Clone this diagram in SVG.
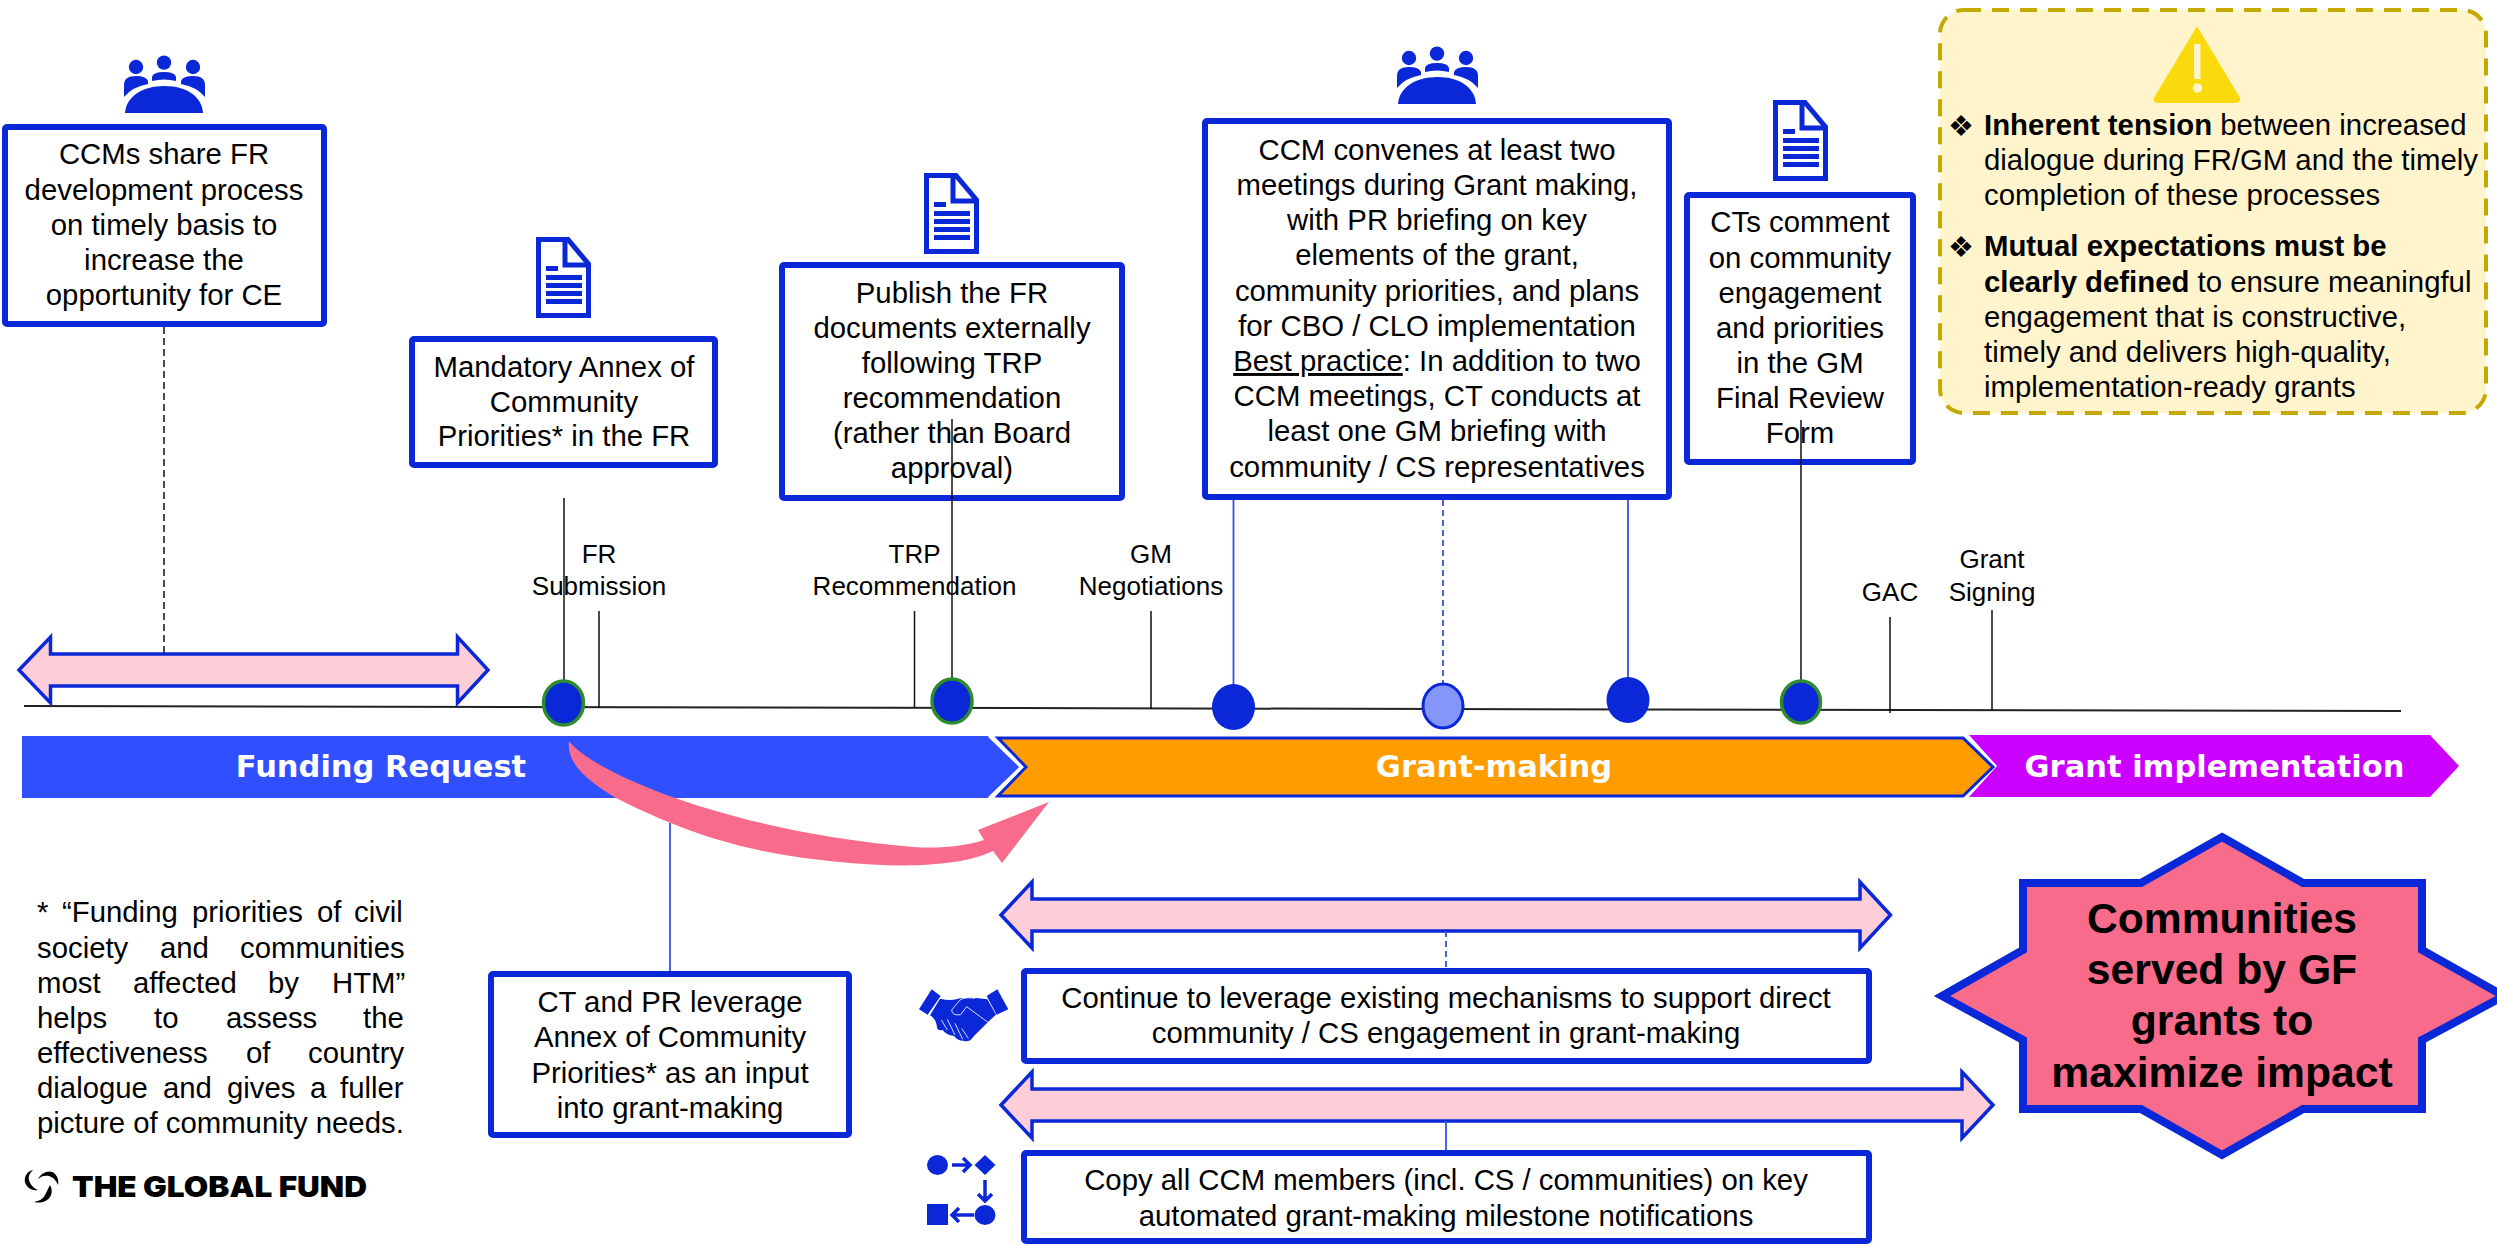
<svg xmlns="http://www.w3.org/2000/svg" xmlns:xlink="http://www.w3.org/1999/xlink" width="2497" height="1246" viewBox="0 0 2497 1246">
<style>
text{font-family:"Liberation Sans",Arial,sans-serif;fill:#000}
.t{font-size:29.33px}
.m{text-anchor:middle}
.l{font-size:26px;text-anchor:middle}
.b{font-weight:700}
.box{fill:#fff;stroke:#0a28d8;stroke-width:6}
.dbl{fill:#fdcdd8;stroke:#0a28d8;stroke-width:3.5}
.bar{font-family:"DejaVu Sans",Verdana,sans-serif;font-weight:700;font-size:30.5px;fill:#fff;text-anchor:middle}
.bk{stroke:#111;stroke-width:1.5;fill:none}
.bl{stroke:#3550e0;stroke-width:1.8;fill:none}
.dot{fill:#0a28d8}
.green{stroke:#2e8b2e;stroke-width:3.5}
.icon{fill:#0a28d8}
.bull{font-family:"DejaVu Sans",sans-serif;font-size:29px}
</style>
<defs>
<symbol id="people" viewBox="0 0 81 57" overflow="visible">
<circle cx="12" cy="11" r="7.2" class="icon"/><circle cx="40" cy="6.6" r="7.2" class="icon"/><circle cx="69" cy="11" r="7.2" class="icon"/>
<path class="icon" d="M0 41V29Q0 20 12 20Q22 20 24 25V28Q8 31 0 41Z"/>
<path class="icon" d="M81 41V29Q81 20 69 20Q59 20 57 25V28Q73 31 81 41Z"/>
<path class="icon" d="M28 25V21Q29 16 40 16Q51 16 52 21V25Q40 22 28 25Z"/>
<path class="icon" d="M1 57C2 41 18 30 40.500 30C63 30 78 41 79 57Z"/>
</symbol>
<symbol id="doc" viewBox="0 0 55 81" overflow="visible">
<path d="M2.500 2.500H32L52.500 27V78.500H2.500Z" fill="#fff" stroke="#0a28d8" stroke-width="5"/>
<path d="M29 3V28H52" fill="none" stroke="#0a28d8" stroke-width="5"/>
<path class="icon" d="M10 29h12v5H10zM10 38h36v5H10zM10 46h36v5H10zM10 54h36v5H10zM10 62h36v5H10z"/>
</symbol>
</defs>

<g id="timeline"><path d="M24 706L2401 711" stroke="#222" stroke-width="2" fill="none"/></g>

<g id="arrow-fr"><path class="dbl" d="M19 670L50.500 637V654H457.500V637L488 670L457.500 703V686H50.500V703Z"/></g>
<g id="arrow-gm1"><path class="dbl" d="M1001 915L1032 882V899H1860V882L1890.500 915L1860 948V931H1032V948Z"/></g>
<g id="arrow-gm2"><path class="dbl" d="M1001 1105L1032 1072V1089H1962V1072L1993 1105L1962 1138V1121H1032V1138Z"/></g>

<g id="phase-grant-making">
<path d="M998 738H1963L1993 767L1963 796H998L1026 767Z" fill="#ff9c00" stroke="#0a28d8" stroke-width="3"/>
<text class="bar" x="1494" y="777">Grant-making</text>
</g>
<g id="phase-funding-request">
<path d="M22 736H988L1020 767L988 798H22Z" fill="#304ffe"/>
<path d="M989 736L1021 767L989 798" fill="none" stroke="#fff" stroke-width="2.500"/>
<text class="bar" x="381" y="777">Funding Request</text>
</g>
<g id="phase-implementation">
<path d="M1969 735H2430L2459 766L2430 797H1969L1997 766Z" fill="#cc00ff"/>
<text class="bar" x="2214.500" y="777">Grant implementation</text>
</g>

<g id="node-ccm-share">
<use href="#people" x="124" y="56" width="81" height="57"/>
<rect class="box" x="5" y="127" width="319" height="197" rx="2"/>
<text class="t m" x="164" y="164">CCMs share FR</text>
<text class="t m" x="164" y="200">development process</text>
<text class="t m" x="164" y="235">on timely basis to</text>
<text class="t m" x="164" y="270">increase the</text>
<text class="t m" x="164" y="305">opportunity for CE</text>
</g>
<g id="node-annex">
<use href="#doc" x="536" y="237" width="55" height="81"/>
<rect class="box" x="412" y="339" width="303" height="126" rx="2"/>
<text class="t m" x="564" y="377">Mandatory Annex of</text>
<text class="t m" x="564" y="412">Community</text>
<text class="t m" x="564" y="446">Priorities* in the FR</text>
</g>
<g id="node-publish">
<use href="#doc" x="924" y="173" width="55" height="81"/>
<rect class="box" x="782" y="265" width="340" height="233" rx="2"/>
<text class="t m" x="952" y="303">Publish the FR</text>
<text class="t m" x="952" y="338">documents externally</text>
<text class="t m" x="952" y="373">following TRP</text>
<text class="t m" x="952" y="408">recommendation</text>
<text class="t m" x="952" y="443">(rather than Board</text>
<text class="t m" x="952" y="478">approval)</text>
</g>
<g id="node-ccm-convenes">
<use href="#people" x="1397" y="47" width="81" height="57"/>
<rect class="box" x="1205" y="121" width="464" height="376" rx="2"/>
<text class="t m" x="1437" y="159.500">CCM convenes at least two</text>
<text class="t m" x="1437" y="195">meetings during Grant making,</text>
<text class="t m" x="1437" y="230">with PR briefing on key</text>
<text class="t m" x="1437" y="265">elements of the grant,</text>
<text class="t m" x="1437" y="300.500">community priorities, and plans</text>
<text class="t m" x="1437" y="336">for CBO / CLO implementation</text>
<text class="t m" x="1437" y="371"><tspan text-decoration="underline">Best practice</tspan>: In addition to two</text>
<text class="t m" x="1437" y="406">CCM meetings, CT conducts at</text>
<text class="t m" x="1437" y="441">least one GM briefing with</text>
<text class="t m" x="1437" y="477">community / CS representatives</text>
</g>
<g id="node-cts-comment">
<use href="#doc" x="1773" y="100" width="55" height="81"/>
<rect class="box" x="1687" y="195" width="226" height="267" rx="2"/>
<text class="t m" x="1800" y="232">CTs comment</text>
<text class="t m" x="1800" y="267.500">on community</text>
<text class="t m" x="1800" y="303">engagement</text>
<text class="t m" x="1800" y="338">and priorities</text>
<text class="t m" x="1800" y="373">in the GM</text>
<text class="t m" x="1800" y="408">Final Review</text>
<text class="t m" x="1800" y="443">Form</text>
</g>
<g id="node-ct-pr">
<rect class="box" x="491" y="974" width="358" height="161" rx="2"/>
<text class="t m" x="670" y="1012">CT and PR leverage</text>
<text class="t m" x="670" y="1047">Annex of Community</text>
<text class="t m" x="670" y="1083">Priorities* as an input</text>
<text class="t m" x="670" y="1118">into grant-making</text>
</g>
<g id="node-continue">
<g transform="translate(910 980) scale(.3333)">
<path class="icon" d="M27 88L65 28L92 48L53 104Z"/>
<path class="icon" d="M230 48L262 28L295 88L260 104Z"/>
<path class="icon" d="M90 56Q125 65 150 55Q190 50 232 58L258 104L238 122L192 168Q178 190 160 182Q142 182 132 168Q108 165 98 150Q80 155 80 135Q76 115 60 106Z"/>
<path d="M234 127L170 80L152 104Q126 108 125 90L150 60Q165 50 195 55M94 120L112 150M112 118L135 165M135 130L158 178M155 145L175 175" fill="none" stroke="#fff" stroke-width="2.500"/>
</g>
<rect class="box" x="1024" y="971" width="845" height="90" rx="2"/>
<text class="t m" x="1446" y="1008">Continue to leverage existing mechanisms to support direct</text>
<text class="t m" x="1446" y="1043">community / CS engagement in grant-making</text>
</g>
<g id="node-copy">
<ellipse class="icon" cx="937.500" cy="1165" rx="10.500" ry="10"/>
<path class="icon" d="M985 1155L995.500 1165L985 1175L974.500 1165Z"/>
<path d="M952 1165H970M963 1158L970 1165L963 1172M985 1180V1201M978 1194L985 1201L992 1194M974 1215H952M959 1208L952 1215L959 1222" fill="none" stroke="#0a28d8" stroke-width="3.500"/>
<ellipse class="icon" cx="985" cy="1215" rx="10.500" ry="10"/>
<rect class="icon" x="927" y="1204" width="21" height="21"/>
<rect class="box" x="1024" y="1153" width="845" height="88" rx="2"/>
<text class="t m" x="1446" y="1190">Copy all CCM members (incl. CS / communities) on key</text>
<text class="t m" x="1446" y="1226">automated grant-making milestone notifications</text>
</g>

<g id="node-tension">
<rect x="1940" y="10" width="546" height="403" rx="24" fill="#fff4cc" stroke="#c4a900" stroke-width="4" stroke-dasharray="17 11"/>
<path d="M2197 28L2239 98Q2240 102 2236 102H2158Q2154 102 2155 98Z" fill="#fada0d" stroke="#fada0d" stroke-width="2" stroke-linejoin="round"/>
<rect x="2194" y="44" width="6.500" height="35" fill="#fff4cc"/>
<circle cx="2197.500" cy="88" r="4.800" fill="#fff4cc"/>
<text class="bull m" x="1961" y="136">❖</text>
<text class="bull m" x="1961" y="257">❖</text>
<text class="t" x="1984" y="135"><tspan class="b">Inherent tension</tspan> between increased</text>
<text class="t" x="1984" y="170">dialogue during FR/GM and the timely</text>
<text class="t" x="1984" y="205">completion of these processes</text>
<text class="t b" x="1984" y="256">Mutual expectations must be</text>
<text class="t" x="1984" y="292"><tspan class="b">clearly defined</tspan> to ensure meaningful</text>
<text class="t" x="1984" y="327">engagement that is constructive,</text>
<text class="t" x="1984" y="362">timely and delivers high-quality,</text>
<text class="t" x="1984" y="397">implementation-ready grants</text>
</g>

<g id="node-communities">
<path d="M2222 837L2303 883H2422V950L2504 996L2422 1040V1109H2303L2222 1155L2141 1109H2023V1040L1942 996L2023 950V883H2141Z" fill="#f96b8b" stroke="#0a28d8" stroke-width="8"/>
<text class="b m" font-size="42.670" x="2222" y="933">Communities</text>
<text class="b m" font-size="42.670" x="2222" y="984">served by GF</text>
<text class="b m" font-size="42.670" x="2222" y="1035">grants to</text>
<text class="b m" font-size="42.670" x="2222" y="1087">maximize impact</text>
</g>

<g id="labels">
<text class="l" x="599" y="563">FR</text><text class="l" x="599" y="595">Submission</text>
<text class="l" x="914.500" y="563">TRP</text><text class="l" x="914.500" y="595">Recommendation</text>
<text class="l" x="1151" y="563">GM</text><text class="l" x="1151" y="595">Negotiations</text>
<text class="l" x="1890" y="601">GAC</text>
<text class="l" x="1992" y="568">Grant</text><text class="l" x="1992" y="601">Signing</text>
</g>

<g id="connectors">
<path class="bk" d="M164 327V654" stroke-dasharray="7 4"/>
<path class="bk" d="M564 498V682"/>
<path class="bk" d="M952 419V680"/>
<path class="bk" d="M599 611V708M914.500 611V708M1151 611V709M1890 617V713M1992 610V710"/>
<path class="bk" d="M1801 420V682"/>
<path class="bl" d="M1233.500 500V686M1628 500V679"/>
<path class="bl" d="M1443 500V685" stroke-dasharray="6 4"/>
<path class="bl" d="M670 823V971"/>
<path class="bl" d="M1446 931V968" stroke-dasharray="6 4"/>
<path class="bl" d="M1446 1121V1150"/>
</g>

<g id="node-pink-arrow"><path d="M569 741C590 770 720 830 913 847C940 849 965 846 984 840L978 830L1049 802L1002 863L993 851C960 867 900 868 840 862C740 853 680 830 616 798C590 782 566 765 569 741Z" fill="#f96b8b"/></g>

<g id="milestones">
<ellipse class="dot green" cx="563.500" cy="703" rx="20" ry="22"/>
<ellipse class="dot green" cx="952" cy="701" rx="20" ry="22"/>
<ellipse class="dot" cx="1233.500" cy="707" rx="21.500" ry="23"/>
<ellipse cx="1443" cy="706" rx="20" ry="22" fill="#8497f8" stroke="#0a28d8" stroke-width="3"/>
<ellipse class="dot" cx="1628" cy="700" rx="21.500" ry="23"/>
<ellipse class="dot green" cx="1801" cy="702" rx="19.500" ry="21"/>
</g>

<g id="footnote">
<text class="t" y="922"><tspan x="37">*</tspan><tspan x="62">“Funding</tspan><tspan x="192">priorities</tspan><tspan x="317">of</tspan><tspan x="354">civil</tspan></text>
<text class="t" y="958"><tspan x="37">society</tspan><tspan x="160">and</tspan><tspan x="240">communities</tspan></text>
<text class="t" y="993"><tspan x="37">most</tspan><tspan x="133">affected</tspan><tspan x="268">by</tspan><tspan x="332">HTM”</tspan></text>
<text class="t" y="1028"><tspan x="37">helps</tspan><tspan x="154">to</tspan><tspan x="226">assess</tspan><tspan x="363">the</tspan></text>
<text class="t" y="1063"><tspan x="37">effectiveness</tspan><tspan x="246">of</tspan><tspan x="308">country</tspan></text>
<text class="t" y="1098"><tspan x="37">dialogue</tspan><tspan x="163">and</tspan><tspan x="227">gives</tspan><tspan x="310">a</tspan><tspan x="340">fuller</tspan></text>
<text class="t" x="37" y="1133">picture of community needs.</text>
</g>

<g id="logo">
<path d="M33 1170C24 1172 23 1182 27 1186C30 1190 35 1191 38 1190C33 1188 30 1184 29 1180C28 1176 30 1173 33 1170ZM38 1179C42 1172 50 1169 55 1174C58 1177 59 1181 58 1185C56 1180 53 1177 49 1176C45 1175 41 1176 38 1179ZM50 1185C53 1190 52 1197 47 1200C43 1203 38 1203 34 1202C39 1201 43 1199 45 1195C47 1192 48 1188 50 1185Z" fill="#000"/>
<text x="72" y="1197" style="font-family:Inter,'Liberation Sans',sans-serif;font-weight:900;font-size:29px" textLength="295" lengthAdjust="spacingAndGlyphs">THE GLOBAL FUND</text>
</g>
</svg>
